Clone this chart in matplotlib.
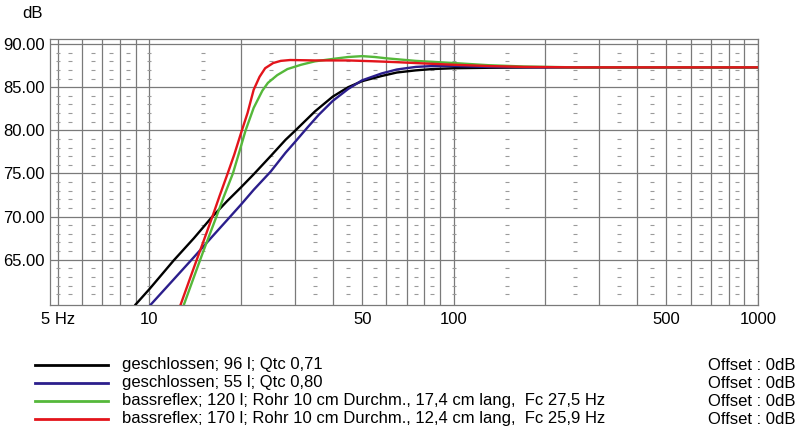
import matplotlib
matplotlib.use("Agg")
import matplotlib.pyplot as plt
from matplotlib.lines import Line2D
from matplotlib.ticker import FixedLocator, NullFormatter

plt.rcParams["font.family"] = ["Liberation Sans", "DejaVu Sans"]

# frequency response curves (Hz, dB)
black_f = [9.0, 10, 12, 14, 16, 18, 20, 22, 25, 28, 30, 35, 40, 45, 50, 58, 65, 75, 85, 100, 130, 200, 1000]
black_db = [59.8, 61.6, 64.9, 67.5, 69.9, 71.8, 73.4, 74.9, 77.0, 78.9, 79.9, 82.2, 83.9, 85.0, 85.7,
            86.3, 86.7, 86.95, 87.1, 87.2, 87.25, 87.3, 87.3]

blue_f = [10.1, 12, 14, 16, 18, 20, 22, 25, 28, 30, 33, 36, 40, 45, 50, 58, 65, 75, 85, 100, 130, 200, 1000]
blue_db = [59.8, 62.7, 65.3, 67.6, 69.6, 71.4, 73.1, 75.2, 77.4, 78.6, 80.3, 81.8, 83.4, 84.8, 85.8,
           86.6, 87.05, 87.35, 87.45, 87.45, 87.35, 87.3, 87.3]

green_f = [12.98, 14, 15, 16.6, 17.5, 18.8, 19.7, 20.7, 22, 23.5, 24.5, 26.3, 28.4, 31.5, 35, 40.5,
           45, 50, 55, 60, 75, 100, 130, 170, 250, 1000]
green_db = [59.8, 63.0, 65.9, 70.0, 72.2, 75.0, 77.4, 80.0, 82.6, 84.6, 85.5, 86.4, 87.1, 87.6, 88.0,
            88.3, 88.5, 88.6, 88.5, 88.35, 88.05, 87.8, 87.55, 87.4, 87.3, 87.3]

red_f = [12.66, 14, 15, 16.1, 17, 18.07, 19, 20, 21, 22, 23, 24, 25.5, 27, 29, 35, 45, 55, 65, 80,
         100, 130, 170, 250, 1000]
red_db = [59.8, 64.1, 67.0, 70.0, 72.4, 75.0, 77.2, 79.7, 82.0, 84.7, 86.2, 87.2, 87.8, 88.05, 88.15,
          88.1, 88.1, 88.0, 87.9, 87.75, 87.6, 87.45, 87.35, 87.3, 87.3]

labels = [
    "geschlossen; 96 l; Qtc 0,71",
    "geschlossen; 55 l; Qtc 0,80",
    "bassreflex; 120 l; Rohr 10 cm Durchm., 17,4 cm lang,  Fc 27,5 Hz",
    "bassreflex; 170 l; Rohr 10 cm Durchm., 12,4 cm lang,  Fc 25,9 Hz",
]
offsets = ["Offset : 0dB"] * 4
colors = ["#000000", "#2b1e8c", "#55b83a", "#e3141b"]

y_ticks = [65, 70, 75, 80, 85, 90]
x_major = [5, 6, 7, 8, 9, 10, 20, 30, 40, 50, 60, 70, 80, 90, 100,
           200, 300, 400, 500, 600, 700, 800, 900, 1000]
x_mid = [5, 5.5, 6.5, 7.5, 8.5, 10, 15, 25, 35, 45, 55, 65, 75, 85, 100,
         150, 250, 350, 450, 550, 650, 750, 850, 1000]
x_labels = {5: "5 Hz", 10: "10", 50: "50", 100: "100", 500: "500", 1000: "1000"}

fig = plt.figure(figsize=(8, 4.32), dpi=100)
ax = fig.add_axes([0.0625, 0.294, 0.885, 0.616])

grid_c = "#7a7a7a"
for x in x_major:
    ax.axvline(x, color=grid_c, lw=0.9, zorder=1)
for y in y_ticks:
    ax.axhline(y, color=grid_c, lw=0.9, zorder=1)

# small dashes at every dB on the half-step frequencies
minor_db = [d for d in range(60, 91) if d % 5 != 0]
for x in x_mid:
    ax.plot([x] * len(minor_db), minor_db, ls="none", marker="_", ms=3,
            mew=0.8, color="#9a9a9a", zorder=1)

curves = [(black_f, black_db), (blue_f, blue_db), (green_f, green_db), (red_f, red_db)]
for (f, db), c in zip(curves, colors):
    ax.plot(f, db, color=c, lw=1.7, zorder=3, solid_joinstyle="round")

ax.set_xscale("log")
ax.set_xlim(4.71, 1000)
ax.set_ylim(59.75, 90.6)

ax.xaxis.set_major_locator(FixedLocator(list(x_labels.keys())))
ax.xaxis.set_minor_locator(FixedLocator([]))
ax.xaxis.set_minor_formatter(NullFormatter())
ax.set_xticklabels(list(x_labels.values()))
ax.set_yticks(y_ticks)
ax.set_yticklabels([f"{v:.2f}" for v in y_ticks])
ax.tick_params(length=0, labelsize=12, pad=5)
ax.tick_params(axis="y", pad=4)
for s in ax.spines.values():
    s.set_color(grid_c)
    s.set_linewidth(0.9)

fig.text(22 / 800, 1 - 13 / 432, "dB", fontsize=12, va="center")

# legend block below the plot
rows_y = [365, 383, 401, 419]
for ry, lab, off, c in zip(rows_y, labels, offsets, colors):
    yf = 1 - ry / 432
    fig.add_artist(Line2D([35 / 800, 108 / 800], [yf, yf], color=c, lw=2))
    fig.text(122 / 800, yf, lab, fontsize=12, va="center")
    fig.text(796 / 800, yf, off, fontsize=12, va="center", ha="right")

fig.savefig("out.png", dpi=100)
